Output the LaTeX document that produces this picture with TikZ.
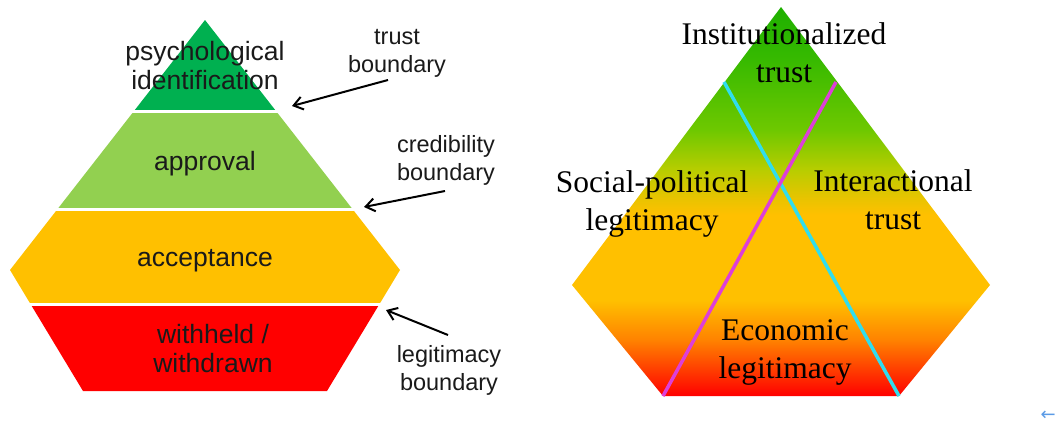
\documentclass[tikz,border=0pt]{standalone}
\usepackage{fontspec}
\setmainfont{Liberation Serif}
\newfontfamily\arialfont{Liberation Sans}
\newfontfamily\symbolfont{DejaVu Sans}
\usetikzlibrary{arrows.meta}

\definecolor{psychgreen}{HTML}{00B050}
\definecolor{apprgreen}{HTML}{92D050}
\definecolor{accamber}{HTML}{FFC000}
\definecolor{withred}{HTML}{FF0000}
\definecolor{labelgray}{HTML}{1A1A1A}
\definecolor{crosscyan}{HTML}{30DDEE}
\definecolor{crossmagenta}{HTML}{DD3FD8}
\definecolor{uiblue}{HTML}{5B9BE6}
\definecolor{shTop}{RGB}{30,176,0}
\definecolor{shGreen}{RGB}{55,186,0}
\definecolor{shLime}{RGB}{110,200,0}
\definecolor{shYellow}{RGB}{185,205,0}
\definecolor{shOlive}{RGB}{235,195,0}
\definecolor{shOrange}{RGB}{255,130,0}
\definecolor{shRed}{RGB}{255,0,0}

\pgfdeclareverticalshading{trustshade}{100bp}{color(0bp)=(shRed); color(25bp)=(shRed);
color(32.2bp)=(shOrange); color(37.3bp)=(accamber); color(48.3bp)=(accamber);
color(50.2bp)=(shOlive); color(54bp)=(shYellow); color(59.2bp)=(shLime);
color(68.2bp)=(shGreen); color(75bp)=(shTop); color(100bp)=(shTop)}

\tikzset{
bandlabel/.style={text=labelgray, align=center, inner sep=0pt,
font={\arialfont\fontsize{26.5}{29}\selectfont}},
bndlabel/.style={text=labelgray, align=center, inner sep=0pt,
font={\arialfont\fontsize{23.5}{28}\selectfont}},
domlabel/.style={text=black, align=center, inner sep=0pt,
font={\fontsize{31.5}{38}\selectfont}},
bndarrow/.style={draw=black, line width=2pt, -{Straight Barb[length=9pt,width=13pt]}},
crossline/.style={line width=3.5pt}
}

\begin{document}
\begin{tikzpicture}[x=1pt, y=-1pt]

\useasboundingbox (0,0) rectangle (1057,423);

\begin{scope}
\clip (205,20) -- (10,270) -- (83,391) -- (327,391) -- (400,270) -- cycle;
\fill [psychgreen] (0,0) rectangle (420,110);
\fill [apprgreen] (0,113) rectangle (420,208);
\fill [accamber] (0,211) rectangle (420,303);
\fill [withred] (0,306) rectangle (420,400);
\end{scope}

\node [bandlabel] (psych) at (205,66) {psychological\\identification};

\node [bandlabel] (approval) at (205,164) {approval};

\node [bandlabel] (accept) at (205,261) {acceptance};

\node [bandlabel] (withheld) at (213,349) {withheld /\\withdrawn};

\node [bndlabel] (trustbnd) at (397,53) {trust\\boundary};

\node [bndlabel] (credbnd) at (446,160) {credibility\\boundary};

\node [bndlabel] (legitbnd) at (449,370) {legitimacy\\boundary};

\coordinate (trusttail) at (388,80);
\coordinate (trusttip) at (292,106);
\coordinate (credtail) at (445,191);
\coordinate (credtip) at (364,207);
\coordinate (legittail) at (448,335);
\coordinate (legittip) at (386,310);

\draw [bndarrow] (trusttail) -- (trusttip);
\draw [bndarrow] (credtail) -- (credtip);
\draw [bndarrow] (legittail) -- (legittip);

\shade [shading=trustshade] (781,7) -- (572,285) -- (663,396) -- (899,396) -- (990,285) -- cycle;

\coordinate (cyantop) at (724,82);
\coordinate (cyanfoot) at (899,396);
\coordinate (magtop) at (836,82);
\coordinate (magfoot) at (663,396);

\draw [crossline, crosscyan] (cyantop) -- (cyanfoot);
\draw [crossline, crossmagenta] (magtop) -- (magfoot);

\node [domlabel] (inst) at (784,53) {Institutionalized\\trust};

\node [domlabel] (socpol) at (652,204) {Social-political\\legitimacy};

\node [domlabel] (interact) at (893,200) {Interactional\\trust};

\node [domlabel] (econ) at (785,352) {Economic\\legitimacy};

\node [text=uiblue, anchor=east, inner sep=0pt, font={\symbolfont\fontsize{18}{18}\selectfont}]
(backarrow) at (1056,416) {←};

\end{tikzpicture}
\end{document}
